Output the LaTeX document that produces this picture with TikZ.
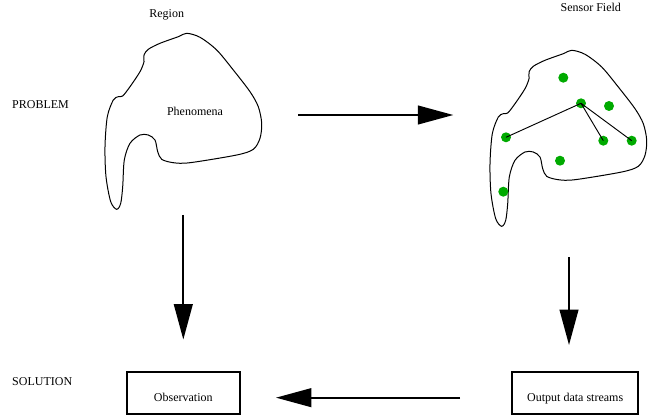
\documentclass[tikz,border=0pt]{standalone}
\usepackage{fontspec}
\setmainfont{Liberation Serif}
\usetikzlibrary{arrows.meta}
\definecolor{sensorgreen}{RGB}{0,170,0}

\begin{document}
\begin{tikzpicture}[x=0.75pt, y=-0.75pt,
	every node/.style={font=\fontsize{9}{11}\selectfont},
	bigarrow/.style={line width=1.5pt, -{Triangle[length=26.5pt, width=14pt]}},
	outbox/.style={draw, line width=1.5pt, inner sep=0pt, minimum width=#1, minimum height=31.5pt, text height=13pt, text depth=0pt},
	blob/.style={line width=0.75pt},
	link/.style={line width=0.7pt}]
	\useasboundingbox (0,0) rectangle (663,416);

	\node (problem) at (40.5,105) {PROBLEM};
	\node (solution) at (42.2,381.7) {SOLUTION};
	\node (region) at (166.7,15) {Region};
	\node (field) at (590.8,7.3) {Sensor Field};
	\node (phenomena) at (195,111.7) {Phenomena};

	% region, then the same outline as sensor field
	\foreach \dx/\dy in {0/0, 385/17}
		\draw[blob, shift={(\dx,\dy)}] plot[smooth cycle] coordinates {
			(186.7,33.3) (200,37.3) (216.7,50) (233.3,70) (250,91.7) (258.3,106.7)
			(261.7,123.3) (260,138.3) (253.3,149.3) (236.7,155) (190,162.7) (173.3,162.7)
			(161.7,159.3) (157.7,151.7) (155,140) (148.3,135) (140,135) (130,143.3)
			(124.3,160) (122.7,186.7) (120.7,203.3) (116.7,209.3) (110.7,201.7) (106,176.7)
			(105,146.7) (107.3,116.7) (113.3,100) (118.3,96.7) (122.7,96) (130,86.7)
			(140,71.7) (144,61.7) (144,55) (148.3,49.3) (160,43.3) (178.3,36.7)};

	% sensors
	\coordinate (s1) at (563.3,77.7);
	\coordinate (s2) at (581,103.3);
	\coordinate (s3) at (609,106);
	\coordinate (s4) at (506,137.3);
	\coordinate (s5) at (603.3,140.7);
	\coordinate (s6) at (631.7,140.7);
	\coordinate (s7) at (560,160.7);
	\coordinate (s8) at (503.3,191.7);
	\foreach \s in {s1,s2,s3,s4,s5,s6,s7,s8}
		\fill[sensorgreen] (\s) circle (3.75pt);
	\draw[link] (s2) -- (s4);
	\draw[link] (s2) -- (s5);
	\draw[link] (s2) -- (s6);

	\node[outbox=84.5pt] (observation) at (183.3,393) {Observation};
	\node[outbox=94.7pt] (output) at (575.2,393) {Output data streams};

	\coordinate (deploy) at (298.3,115);
	\coordinate (deployed) at (453.3,115);
	\coordinate (regionfoot) at (183.3,215);
	\coordinate (fieldfoot) at (569,257.3);

	\draw[bigarrow] (deploy) -- (deployed);
	\draw[bigarrow, shorten >=23.6pt] (regionfoot) -- (observation.north);
	\draw[bigarrow, shorten >=19.5pt] (fieldfoot) -- (fieldfoot |- output.north);
	\draw[bigarrow, shorten <=38.3pt, shorten >=26.5pt] ([yshift=-3.5pt]output.west) -- ([yshift=-3.5pt]observation.east);
\end{tikzpicture}
\end{document}
